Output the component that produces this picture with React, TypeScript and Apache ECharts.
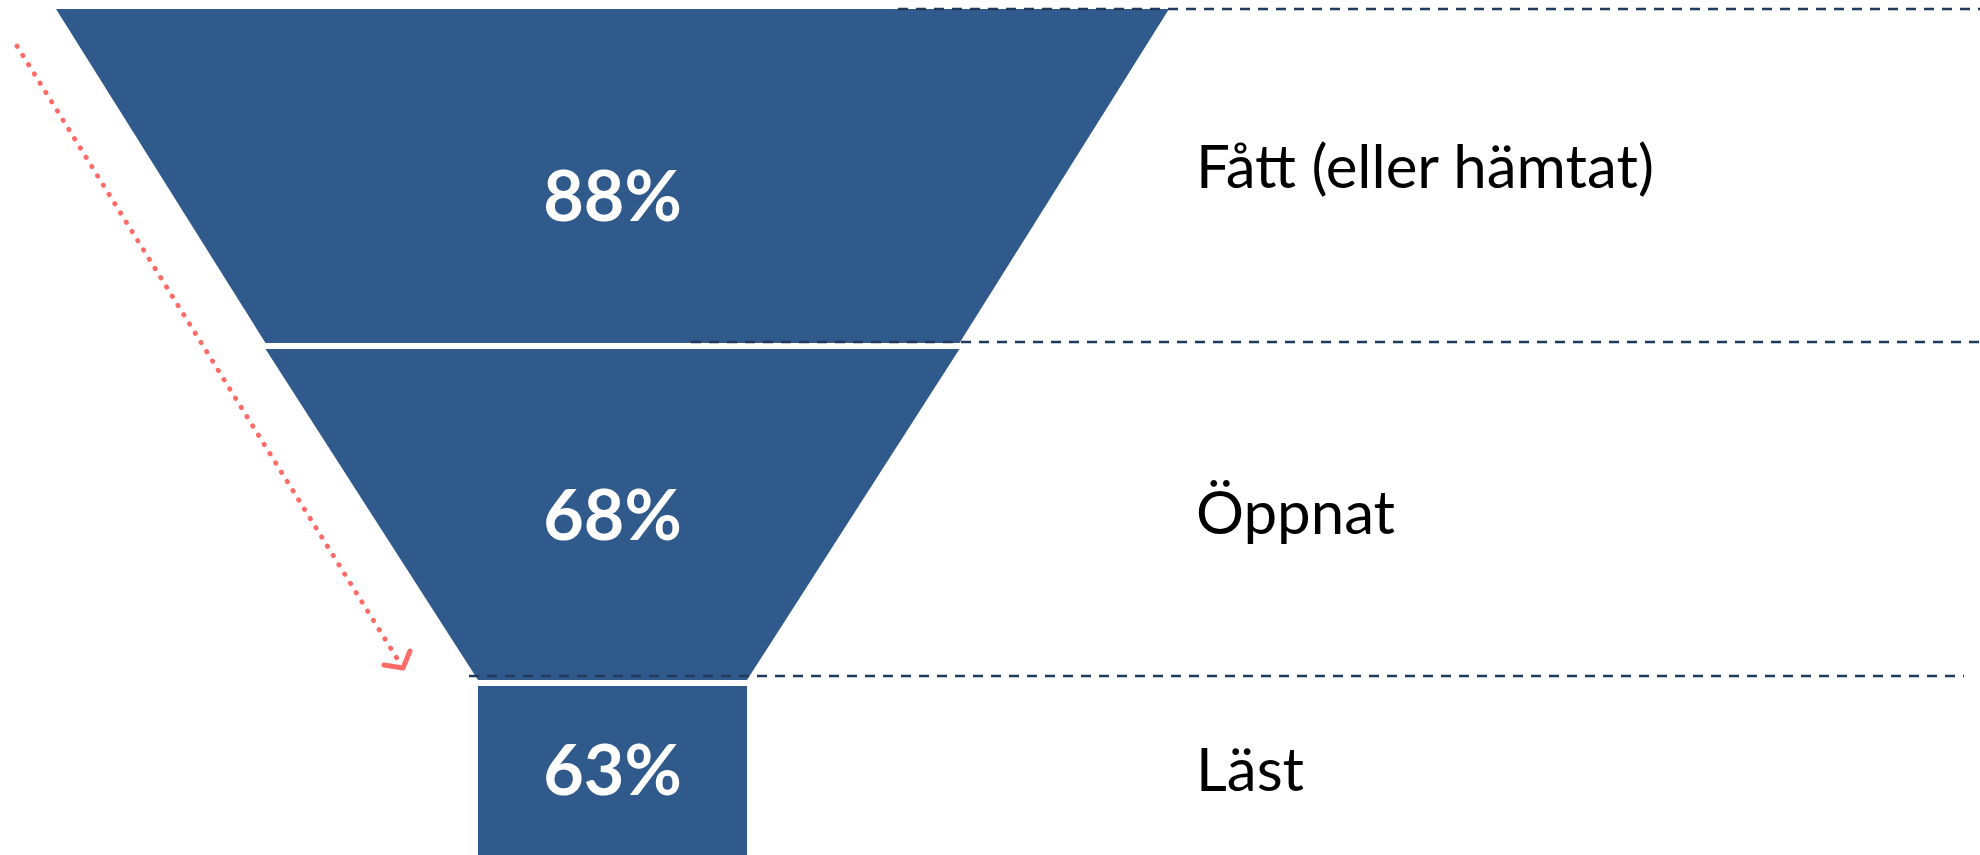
import React, { useEffect, useRef } from "react";
import * as echarts from "echarts";

// ---- data ----
const stages = ["Fått (eller hämtat)", "Öppnat", "Läst"];
const shares = [88, 68, 63];

// ---- layout / style constants ----
const CHART_W = 1980;
const CHART_H = 855;
const FUNNEL_LEFT = 56;
const FUNNEL_TOP = 9;
const FUNNEL_WIDTH = 1113;
const ITEM_HEIGHTS = [334, 331, 170];
const GAP = 6;
// value range mapped onto [MIN_SIZE, MAX_SIZE] (shape of the funnel)
const SHAPE_MIN = 63;
const SHAPE_MAX = 72.93;
const MIN_SIZE = 269;
const MAX_SIZE = 1113;
const NAME_LEFT = 1191;
// vertical nudges of labels (px, + = down)
const PCT_SHIFT = [18, -2, -3];
const NAME_SHIFT = [-11, -4, -3];
const BLUE = "#30598C";
const RED = "#FF6B66";
const GUIDE = "#1F3A5C";
const GUIDE_Y = [9, 342, 676];
const GUIDE_X0 = [898, 691, 469];
const GUIDE_X1 = [1980, 1980, 1964];

function shiftPadding(s: number) {
  return s >= 0 ? [2 * s, 0, 0, 0] : [0, 0, -2 * s, 0];
}

export default function App() {
  const ref = useRef<HTMLDivElement>(null);
  useEffect(() => {
    if (!ref.current) return;
    const chart = echarts.init(ref.current, null, { renderer: "svg" });
    const funnelHeight =
      ITEM_HEIGHTS.reduce((a, b) => a + b, 0) + GAP * (stages.length - 1);

    const pctStyle = {
      color: "#ffffff",
      fontFamily: "Lato",
      fontWeight: "bold",
      fontSize: 70,
    };
    const nameStyle = {
      color: "#000000",
      fontFamily: "Lato",
      fontSize: 60,
    };

    chart.setOption({
      animation: false,
      backgroundColor: "#ffffff",
      tooltip: { show: false },
      series: [
        {
          type: "funnel",
          sort: "none",
          left: FUNNEL_LEFT,
          top: FUNNEL_TOP,
          width: FUNNEL_WIDTH,
          height: funnelHeight,
          min: SHAPE_MIN,
          max: SHAPE_MAX,
          minSize: MIN_SIZE,
          maxSize: MAX_SIZE,
          gap: GAP,
          funnelAlign: "center",
          silent: true,
          itemStyle: { color: BLUE, borderWidth: 0 },
          label: {
            show: true,
            position: "inside",
            formatter: "{p|{c}%}",
            ...pctStyle,
            textBorderWidth: 0,
          },
          labelLine: { show: false },
          emphasis: { disabled: true },
          data: stages.map((name, i) => ({
            name,
            value: shares[i],
            itemStyle: { height: ITEM_HEIGHTS[i] },
            label: {
              rich: {
                p: { ...pctStyle, padding: shiftPadding(PCT_SHIFT[i]) },
              },
            },
          })),
        },
        {
          type: "funnel",
          sort: "none",
          left: NAME_LEFT,
          top: FUNNEL_TOP,
          width: 700,
          height: funnelHeight,
          minSize: 700,
          maxSize: 700,
          gap: GAP,
          funnelAlign: "left",
          silent: true,
          itemStyle: { color: "rgba(0,0,0,0)", borderWidth: 0 },
          label: {
            show: true,
            position: "insideLeft",
            formatter: "{n|{b}}",
            ...nameStyle,
            textBorderWidth: 0,
          },
          labelLine: { show: false },
          emphasis: { disabled: true },
          data: stages.map((name, i) => ({
            name,
            value: shares[i],
            itemStyle: { height: ITEM_HEIGHTS[i] },
            label: {
              rich: {
                n: { ...nameStyle, padding: shiftPadding(NAME_SHIFT[i]) },
              },
            },
          })),
        },
      ],
      graphic: [
        ...GUIDE_Y.map((y, i) => ({
          type: "line",
          z: 100,
          silent: true,
          shape: { x1: GUIDE_X0[i], y1: y, x2: GUIDE_X1[i], y2: y },
          style: { stroke: GUIDE, lineWidth: 2.5, lineDash: [10, 8] },
        })),
        {
          type: "line",
          z: 100,
          silent: true,
          shape: { x1: 17, y1: 46, x2: 398, y2: 660 },
          style: {
            stroke: RED,
            lineWidth: 4.8,
            lineDash: [0.5, 10.4],
            lineCap: "round",
          },
        },
        {
          type: "polyline",
          z: 100,
          silent: true,
          shape: {
            points: [
              [410, 651],
              [403, 668],
              [384, 665],
            ],
          },
          style: {
            stroke: RED,
            fill: null,
            lineWidth: 5,
            lineCap: "round",
            lineJoin: "round",
          },
        },
      ],
    });
    return () => chart.dispose();
  }, []);
  return (
    <div
      ref={ref}
      style={{
        position: "absolute",
        left: 0,
        top: 0,
        width: CHART_W,
        height: CHART_H,
      }}
    />
  );
}
